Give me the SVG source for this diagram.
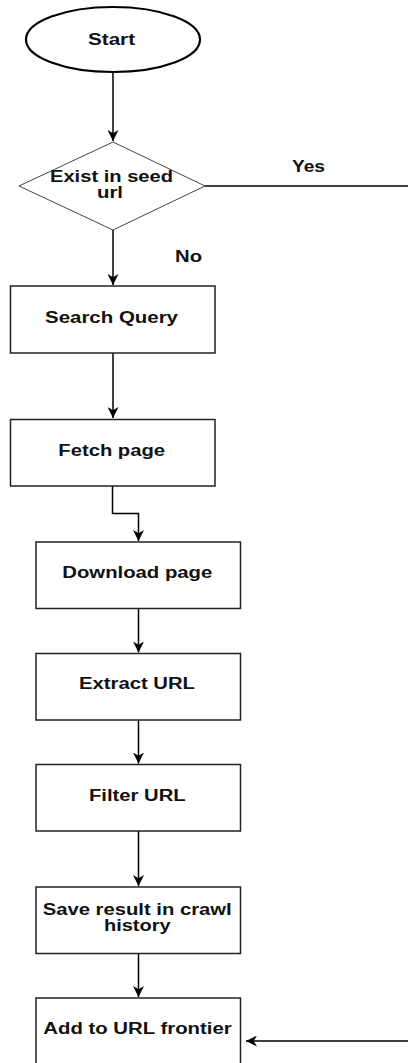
<svg xmlns="http://www.w3.org/2000/svg" width="408" height="1063" viewBox="0 0 408 1063">
<style>
text{font-family:"Liberation Sans",Arial,sans-serif;font-weight:bold;font-size:16px;fill:#111;text-anchor:middle}
.box{fill:#fff;stroke:#222;stroke-width:1.5}
.dia{fill:#fff;stroke:#444;stroke-width:1}
.conn{fill:none;stroke:#000;stroke-width:1.5}
</style>
<defs>
<marker id="arr" viewBox="0 0 10 10" refX="10" refY="5" markerWidth="11" markerHeight="11" markerUnits="userSpaceOnUse" orient="auto">
<path d="M0,0 L10,5 L0,10 L3,5 Z" fill="#000"/>
</marker>
</defs>
<rect width="408" height="1063" fill="#fff"/>
<g id="connectors">
<path class="conn" d="M113,72 V141" marker-end="url(#arr)"/>
<path class="conn" d="M205,186 H408"/>
<path class="conn" d="M113,230 V285" marker-end="url(#arr)"/>
<path class="conn" d="M113,353 V418" marker-end="url(#arr)"/>
<path class="conn" d="M112.5,486 V513.5 H138.5 V541" marker-end="url(#arr)"/>
<path class="conn" d="M138.5,608.5 V652.5" marker-end="url(#arr)"/>
<path class="conn" d="M138.5,720 V763.5" marker-end="url(#arr)"/>
<path class="conn" d="M138.5,831 V886" marker-end="url(#arr)"/>
<path class="conn" d="M138.5,953.5 V997" marker-end="url(#arr)"/>
<path class="conn" d="M408,1041 H246" marker-end="url(#arr)"/>
<text x="308.5" y="172.3" textLength="33" lengthAdjust="spacingAndGlyphs">Yes</text>
<text x="188.5" y="261.7" textLength="27" lengthAdjust="spacingAndGlyphs">No</text>
</g>
<g id="start">
<ellipse cx="113" cy="39.5" rx="87" ry="32.5" fill="#fff" stroke="#000" stroke-width="2.2"/>
<text x="111.5" y="45" textLength="47" lengthAdjust="spacingAndGlyphs">Start</text>
</g>
<g id="exist-in-seed-url">
<polygon class="dia" points="113,142 205,186 113,230 19,186"/>
<text x="111.5" y="181.7" textLength="123" lengthAdjust="spacingAndGlyphs">Exist in seed</text>
<text x="110" y="197.5" textLength="26" lengthAdjust="spacingAndGlyphs">url</text>
</g>
<g id="search-query">
<rect class="box" x="10.5" y="286" width="204.5" height="67"/>
<text x="111.5" y="322.7" textLength="133" lengthAdjust="spacingAndGlyphs">Search Query</text>
</g>
<g id="fetch-page">
<rect class="box" x="10.5" y="419.5" width="204.5" height="66.5"/>
<text x="111.7" y="456" textLength="106.7" lengthAdjust="spacingAndGlyphs">Fetch page</text>
</g>
<g id="download-page">
<rect class="box" x="36" y="542" width="204.5" height="66.5"/>
<text x="137.3" y="578.3" textLength="150" lengthAdjust="spacingAndGlyphs">Download page</text>
</g>
<g id="extract-url">
<rect class="box" x="36" y="653.5" width="204.5" height="66.5"/>
<text x="137" y="689.3" textLength="116" lengthAdjust="spacingAndGlyphs">Extract URL</text>
</g>
<g id="filter-url">
<rect class="box" x="36" y="764.5" width="204.5" height="66.5"/>
<text x="137.3" y="800.7" textLength="96.7" lengthAdjust="spacingAndGlyphs">Filter URL</text>
</g>
<g id="save-result">
<rect class="box" x="36" y="887" width="204.5" height="66.5"/>
<text x="137.2" y="915" textLength="189" lengthAdjust="spacingAndGlyphs">Save result in crawl</text>
<text x="137.3" y="930.5" textLength="66.7" lengthAdjust="spacingAndGlyphs">history</text>
</g>
<g id="add-to-url-frontier">
<rect class="box" x="36" y="998" width="204.5" height="67"/>
<text x="137.5" y="1034.3" textLength="188.3" lengthAdjust="spacingAndGlyphs">Add to URL frontier</text>
</g>
</svg>
